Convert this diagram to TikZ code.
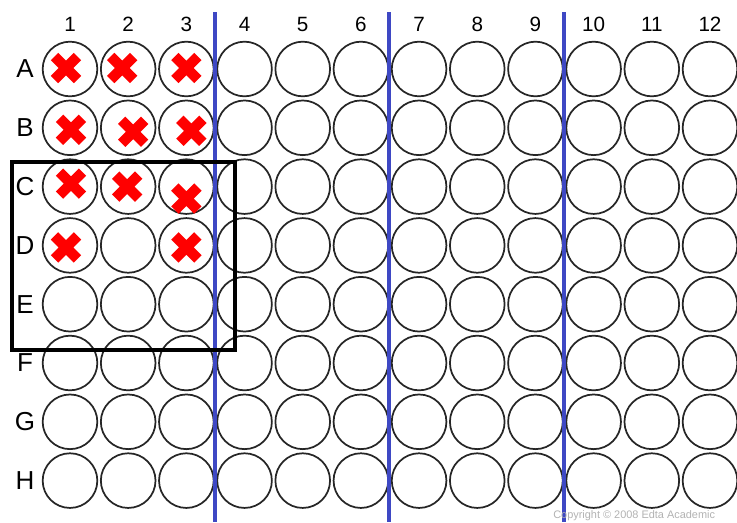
\documentclass[tikz,border=0pt]{standalone}
\usepackage{fontspec}
\setmainfont{Liberation Sans}
\usetikzlibrary{positioning}

\definecolor{dividerblue}{RGB}{62,72,196}
\definecolor{markred}{RGB}{255,0,0}

\begin{document}
\begin{tikzpicture}[x=0.75pt,y=-0.75pt,
    well/.style={circle,draw=black!85,line width=1.3pt,inner sep=0pt,minimum size=41pt},
    cross/.style={draw=markred,line width=7.8pt,line cap=butt},
    divider/.style={draw=dividerblue,line width=3pt},
    selbox/.style={draw,line width=3pt},
    collabel/.style={font=\fontsize{15.5}{16}\selectfont},
    rowlabel/.style={font=\fontsize{19.5}{20}\selectfont}]
  \useasboundingbox (0,0) rectangle (737,522);
  \coordinate (plate-top) at (0,12);
  \coordinate (plate-bottom) at (0,522);
  \coordinate (label-line) at (0,24);
  % wells, row by row
  \foreach \r [count=\i from 0] in {A,B,C,D,E,F,G,H} {
    \node[rowlabel] (row-\r) at (25,69+58.8*\i) {\r};
    \foreach \c in {1,...,12}
      \node[well] (well-\r\c) at (70+58.18*\c-58.18,69+58.8*\i) {};
  }
  \foreach \c in {1,...,12}
    \node[collabel] (col-\c) at (well-A\c |- label-line) {\c};
  % marked wells
  \foreach \w/\dx/\dy in {A1/-4/-1,A2/-6/-1,A3/0/-1,B1/1/2,B2/5/4,B3/5/3,
                          C1/1/-3,C2/-1/0,C3/0/12,D1/-4/2,D3/0/2}
    \draw[cross] ([shift={(\dx-11.5,\dy-11.5)}]well-\w.center) -- ++(23,23)
                 ([shift={(\dx+11.5,\dy-11.5)}]well-\w.center) -- ++(-23,23);
  % column groups
  \foreach \c in {3,6,9}
    \draw[divider] (well-A\c.east |- plate-top) -- (well-H\c.east |- plate-bottom);
  % selected block
  \draw[selbox] (12,162) rectangle (235,350);
  \node[anchor=west,text=black!30,font=\fontsize{8.2}{9}\selectfont,inner sep=0pt]
    (copyright) at (553,516) {Copyright © 2008 Edta Academic};
\end{tikzpicture}
\end{document}
